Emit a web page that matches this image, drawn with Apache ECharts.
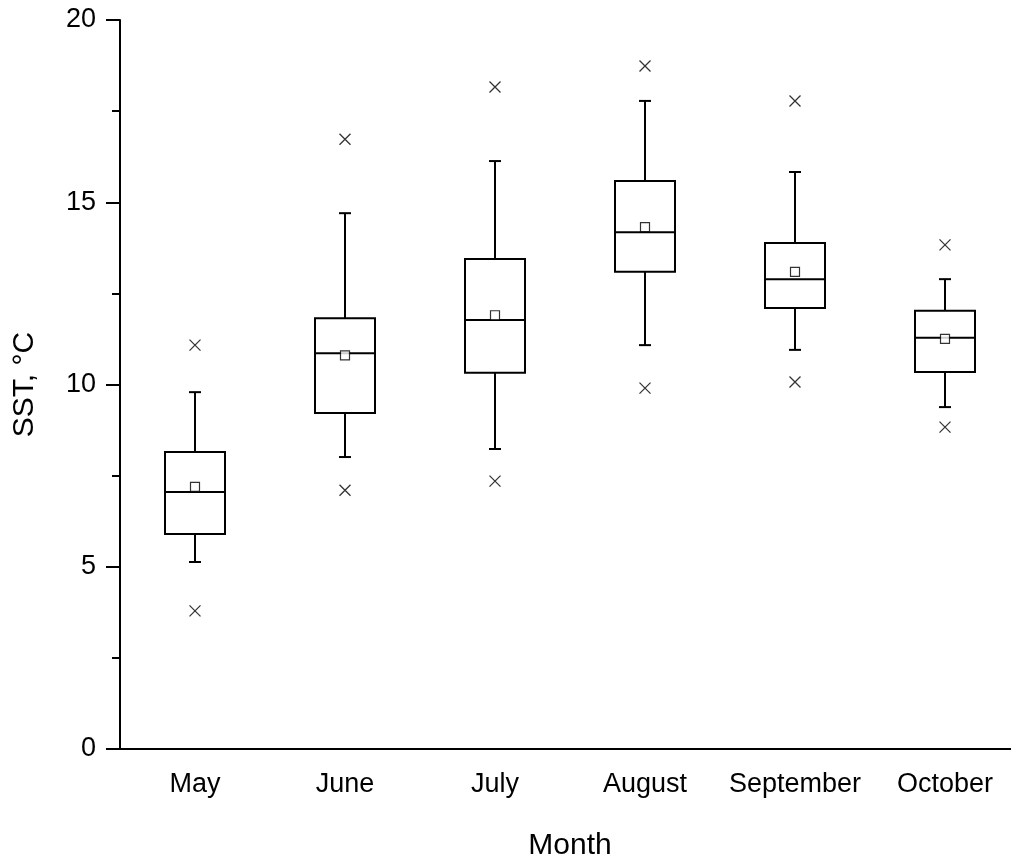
<!DOCTYPE html>
<html><head><meta charset="utf-8">
<script src="https://cdn.jsdelivr.net/npm/echarts@6/dist/echarts.min.js"></script>
<style>html,body{margin:0;padding:0;background:#fff;overflow:hidden}#c{width:1030px;height:861px}</style>
</head><body><div id="c"></div>
<script>
const months = ['May','June','July','August','September','October'];
const whiskerLow = [5.13, 8.01, 8.23, 11.08, 10.95, 9.38];
const q1 = [5.9, 9.22, 10.32, 13.09, 12.1, 10.34];
const median = [7.05, 10.86, 11.77, 14.18, 12.89, 11.28];
const q3 = [8.15, 11.82, 13.44, 15.58, 13.88, 12.02];
const whiskerHigh = [9.79, 14.7, 16.13, 17.78, 15.83, 12.89];
const means = [7.19, 10.8, 11.9, 14.32, 13.09, 11.25];
const outMax = [11.08, 16.73, 18.16, 18.74, 17.78, 13.83];
const outMin = [3.79, 7.1, 7.35, 9.9, 10.07, 8.83];

const boxData = months.map((m,i)=>[i, whiskerLow[i], q1[i], median[i], q3[i], whiskerHigh[i]]);
const crossData = [];
months.forEach((m,i)=>{crossData.push([i,outMax[i]]);crossData.push([i,outMin[i]]);});
const st = {stroke:'#000', lineWidth:2, fill:null};
const F='Liberation Sans';
const chart = echarts.init(document.getElementById('c'));
chart.setOption({
  animation:false,
  grid:{left:120, top:20, width:900, height:729, containLabel:false, outerBoundsMode:'none'},
  xAxis:{type:'category', data:months, name:'Month', nameLocation:'middle', nameGap:82,
    nameTextStyle:{fontSize:30,color:'#000',fontFamily:F},
    axisLine:{lineStyle:{color:'#000',width:2}},
    axisTick:{alignWithLabel:true, inside:false, length:14, lineStyle:{width:2,color:'#000'}},
    axisLabel:{interval:0, hideOverlap:false, fontSize:27,color:'#000',margin:22,fontFamily:F}},
  yAxis:{type:'value', min:0, max:20, interval:5, name:'SST, °C', nameLocation:'middle', nameGap:80,
    nameTextStyle:{fontSize:30,color:'#000',fontFamily:F},
    splitLine:{show:false},
    axisLine:{show:true,lineStyle:{color:'#000',width:2}},
    axisTick:{show:true,length:14,lineStyle:{width:2,color:'#000'}},
    minorTick:{show:true,splitNumber:2,length:8,lineStyle:{width:2,color:'#000'}},
    axisLabel:{fontSize:27,color:'#000',margin:24,fontFamily:F}},
  series:[
    {type:'custom', data:boxData, encode:{x:0,y:[1,2,3,4,5]},
     renderItem:function(params,api){
       const x=api.coord([api.value(0),0])[0];
       const y=[1,2,3,4,5].map(k=>api.coord([0,api.value(k)])[1]);
       const hw=30, cw=6;
       return {type:'group',children:[
         {type:'rect',shape:{x:x-hw,y:y[3],width:2*hw,height:y[1]-y[3]},style:st},
         {type:'line',shape:{x1:x-hw,y1:y[2],x2:x+hw,y2:y[2]},style:st},
         {type:'line',shape:{x1:x,y1:y[3],x2:x,y2:y[4]},style:st},
         {type:'line',shape:{x1:x,y1:y[1],x2:x,y2:y[0]},style:st},
         {type:'line',shape:{x1:x-cw,y1:y[4],x2:x+cw,y2:y[4]},style:st},
         {type:'line',shape:{x1:x-cw,y1:y[0],x2:x+cw,y2:y[0]},style:st}
       ]};
     }},
    {type:'scatter', data:months.map((m,i)=>[i,means[i]]), symbol:'rect', symbolSize:9,
     itemStyle:{color:'#fff',borderColor:'#000',borderWidth:1.2}},
    {type:'scatter', data:crossData, symbol:'path://M0,0L10,10M10,0L0,10', symbolSize:11,
     itemStyle:{color:'none',borderColor:'#000',borderWidth:1.3}}
  ]
});
</script></body></html>
